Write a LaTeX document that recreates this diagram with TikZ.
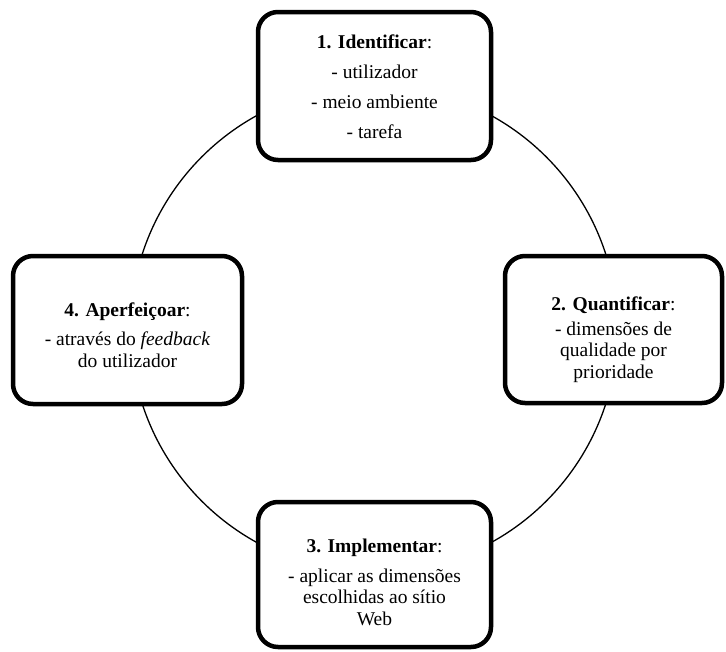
\documentclass[tikz,border=0pt]{standalone}
\usepackage{fontspec}
\setmainfont{Liberation Serif}
\begin{document}
\begin{tikzpicture}[x=1pt,y=-1pt,
  stage/.style={draw=black,line width=4.5pt,rounded corners=20pt,inner sep=0pt,fill=white},
  stagetext/.style={align=center,inner sep=0pt,font=\fontsize{19.5}{21.5}\selectfont},
  ring/.style={draw=black,line width=1.3pt}]
\useasboundingbox (0,0) rectangle (726,651);
\coordinate (c) at (374,329);
\draw[ring] (c) circle[radius=243.5];
\node[stage,minimum width=233pt,minimum height=148pt] (s1) at (374.5,86) {};
\node[stage,minimum width=217pt,minimum height=147pt] (s2) at (613.5,329.5) {};
\node[stage,minimum width=233pt,minimum height=145pt] (s3) at (374.5,574.5) {};
\node[stage,minimum width=229pt,minimum height=148pt] (s4) at (127.5,330) {};
\node[stagetext,font=\fontsize{19.5}{30}\selectfont] (t1) at ([yshift=-1pt]s1.center)
  {\textbf{1. Identificar}:\\- utilizador\\- meio ambiente\\- tarefa};
\node[stagetext] (t2) at ([yshift=-10pt]s2.center)
  {\textbf{2. Quantificar}:\\[3pt]- dimensões de\\qualidade por\\prioridade};
\node[stagetext] (t3) at ([yshift=-8pt]s3.center)
  {\textbf{3. Implementar}:\\[8pt]- aplicar as dimensões\\escolhidas ao sítio\\Web};
\node[stagetext] (t4) at ([yshift=-5pt]s4.center)
  {\textbf{4. Aperfeiçoar}:\\[8pt]- através do \textit{feedback}\\do utilizador};
\end{tikzpicture}
\end{document}
